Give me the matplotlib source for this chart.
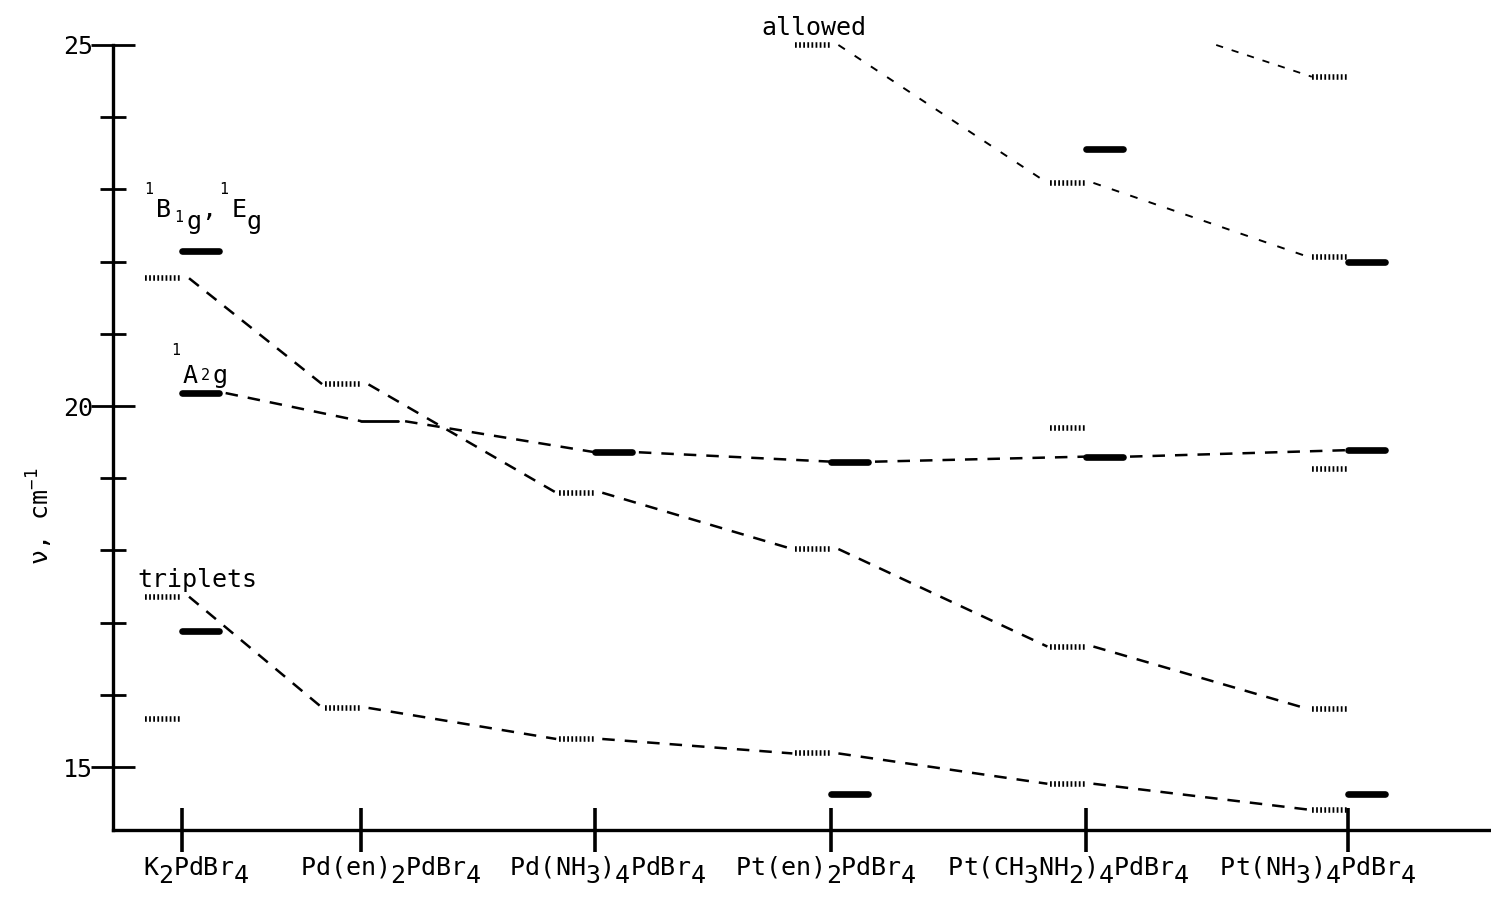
"""
Energy level diagram: observed and calculated d-d band positions
for the tetrabromopalladate salts.
"""

import numpy as np
import matplotlib
matplotlib.use("Agg")
import matplotlib.pyplot as plt
from matplotlib.ticker import FixedLocator, MultipleLocator

plt.rcParams["font.family"] = ["DejaVu Sans Mono", "DejaVu Sans"]
plt.rcParams["mathtext.default"] = "regular"

nan = np.nan

# "_" marks the next character as a (typewriter style) subscript
compounds = [
    "K_2PdBr_4",
    "Pd(en)_2PdBr_4",
    "Pd(NH_3)_4PdBr_4",
    "Pt(en)_2PdBr_4",
    "Pt(CH_3NH_2)_4PdBr_4",
    "Pt(NH_3)_4PdBr_4",
]
x_pos = [0.0, 0.76, 1.75, 2.75, 3.83, 4.94]
label_shift = [10, 21, 9, -4, -13, -22]  # points, hand-typed labels sit off-centre

# observed band positions (hatched marks, left of each compound), 10^3 cm-1
obs_singlet_b = [21.77, 20.30, 18.80, 18.02, 16.67, 15.80]
obs_triplet = [17.36, 15.82, 15.39, 15.19, 14.77, 14.41]
obs_allowed = [nan, nan, nan, 25.00, 23.09, 22.06]
obs_upper = [nan, nan, nan, nan, nan, 24.56]
obs_other = [15.66, nan, nan, nan, 19.70, 19.13]

# calculated positions (solid marks, right of each compound)
calc_singlet_a = [20.18, 19.79, 19.36, 19.23, 19.30, 19.39]
calc_singlet_b = [22.15, nan, nan, nan, nan, nan]
calc_triplet = [16.89, nan, nan, 14.63, nan, 14.63]
calc_allowed = [nan, nan, nan, nan, 23.56, 21.99]

# the upper allowed band enters the frame from above
upper_start_x = 4.38
upper_start_v = 25.0

W = 0.155   # length of a level mark
FS = 18     # typewriter size
ADV = 0.602 * FS  # monospace advance, points

fig = plt.figure(figsize=(14.91, 9.05), dpi=100)
ax = fig.add_axes([0.0758, 0.0829, 0.9236, 0.8674])


def draw_obs(vals):
    for x, v in zip(x_pos, vals):
        if not np.isnan(v):
            ax.plot([x - W, x], [v, v], color="black", lw=4.0,
                    ls=(0, (0.32, 0.42)), solid_capstyle="butt", clip_on=False)


def draw_calc(vals, lw=4.8):
    for x, v in zip(x_pos, vals):
        if not np.isnan(v):
            ax.plot([x, x + W], [v, v], color="black", lw=lw,
                    solid_capstyle="round", clip_on=False)


def connect(vals, side, ls=(0, (5, 4)), lw=1.8):
    # join neighbouring marks of one band, end of one mark to start of the next
    for i in range(len(vals) - 1):
        a, b = vals[i], vals[i + 1]
        if np.isnan(a) or np.isnan(b):
            continue
        if side == "obs":
            xa, xb = x_pos[i] + 0.03, x_pos[i + 1] - W - 0.01
        else:
            xa, xb = x_pos[i] + W + 0.03, x_pos[i + 1]
        ax.plot([xa, xb], [a, b], color="black", lw=lw, ls=ls, clip_on=False)


def typed(xy, pieces, coords="data", dx=0.0, dy=0.0, center=False):
    # pieces: (text, slot, raise in pt, size factor); one slot per character
    nslots = max(slot + len(t) for t, slot, _, _ in pieces)
    x0 = dx - nslots * ADV / 2 if center else dx
    for t, slot, rise, scale in pieces:
        pad = (ADV - ADV * scale) / 2 if len(t) == 1 else 0
        ax.annotate(t, xy=xy, xycoords=coords,
                    xytext=(x0 + slot * ADV + pad, dy + rise),
                    textcoords="offset points", fontsize=FS * scale,
                    ha="left", va="baseline", annotation_clip=False)


def formula_pieces(s):
    pieces, slot, sub = [], 0, False
    for ch in s:
        if ch == "_":
            sub = True
            continue
        pieces.append((ch, slot, -5.5 if sub else 0.0, 1.0))
        slot += 1
        sub = False
    return pieces


connect(obs_singlet_b, "obs")
connect(obs_triplet, "obs")
connect(obs_allowed, "obs", ls=(0, (4, 6)), lw=1.4)
connect(calc_singlet_a, "calc")
ax.plot([upper_start_x, x_pos[5] - W], [upper_start_v, obs_upper[5]],
        color="black", lw=1.3, ls=(0, (4, 5)), clip_on=False)

for vals in (obs_singlet_b, obs_triplet, obs_allowed, obs_upper, obs_other):
    draw_obs(vals)

draw_calc([v if i != 1 else nan for i, v in enumerate(calc_singlet_a)])
draw_calc([nan, calc_singlet_a[1], nan, nan, nan, nan], lw=2.0)
for vals in (calc_singlet_b, calc_triplet, calc_allowed):
    draw_calc(vals)

# state labels
typed((-0.174, 22.62), [("1", 0, 16.5, 0.6), ("B", 1, 0, 1.0),
                        ("1", 2, -3.5, 0.6), ("g", 3, -8.5, 1.0),
                        (",", 4, 0, 1.0), ("1", 5, 16.5, 0.6),
                        ("E", 6, 0, 1.0), ("g", 7, -8.5, 1.0)])
typed((-0.06, 20.32), [("1", 0, 20, 0.6), ("A", 1, 0, 1.0),
                       ("2", 2, 2.0, 0.6), ("g", 3, 0, 1.0)])
typed((-0.19, 17.49), [("triplets", 0, 0, 1.0)])
typed((2.453, 25.14), [("allowed", 0, 0, 1.0)])

ax.set_xlim(-0.292, 5.54)
ax.set_ylim(14.13, 25.0)

for s in ("top", "right"):
    ax.spines[s].set_visible(False)
for s in ("left", "bottom"):
    ax.spines[s].set_linewidth(2.4)

ax.yaxis.set_major_locator(FixedLocator([15, 20, 25]))
ax.yaxis.set_minor_locator(MultipleLocator(1))
ax.tick_params(axis="y", which="major", direction="inout", length=31,
               width=2, labelsize=FS, pad=-1)
ax.tick_params(axis="y", which="minor", direction="inout", length=19, width=2)

ax.set_xticks(x_pos)
ax.set_xticklabels([])
ax.tick_params(axis="x", direction="inout", length=31, width=2.6)
for x, name, sh in zip(x_pos, compounds, label_shift):
    typed((x, 0), formula_pieces(name), coords=("data", "axes fraction"),
          dx=sh, dy=-32.4, center=True)

ax.set_ylabel("ν, cm$^{-1}$", fontsize=FS)
ax.yaxis.set_label_coords(-0.042, 0.40)

fig.savefig("out.png", dpi=100)
plt.close(fig)
